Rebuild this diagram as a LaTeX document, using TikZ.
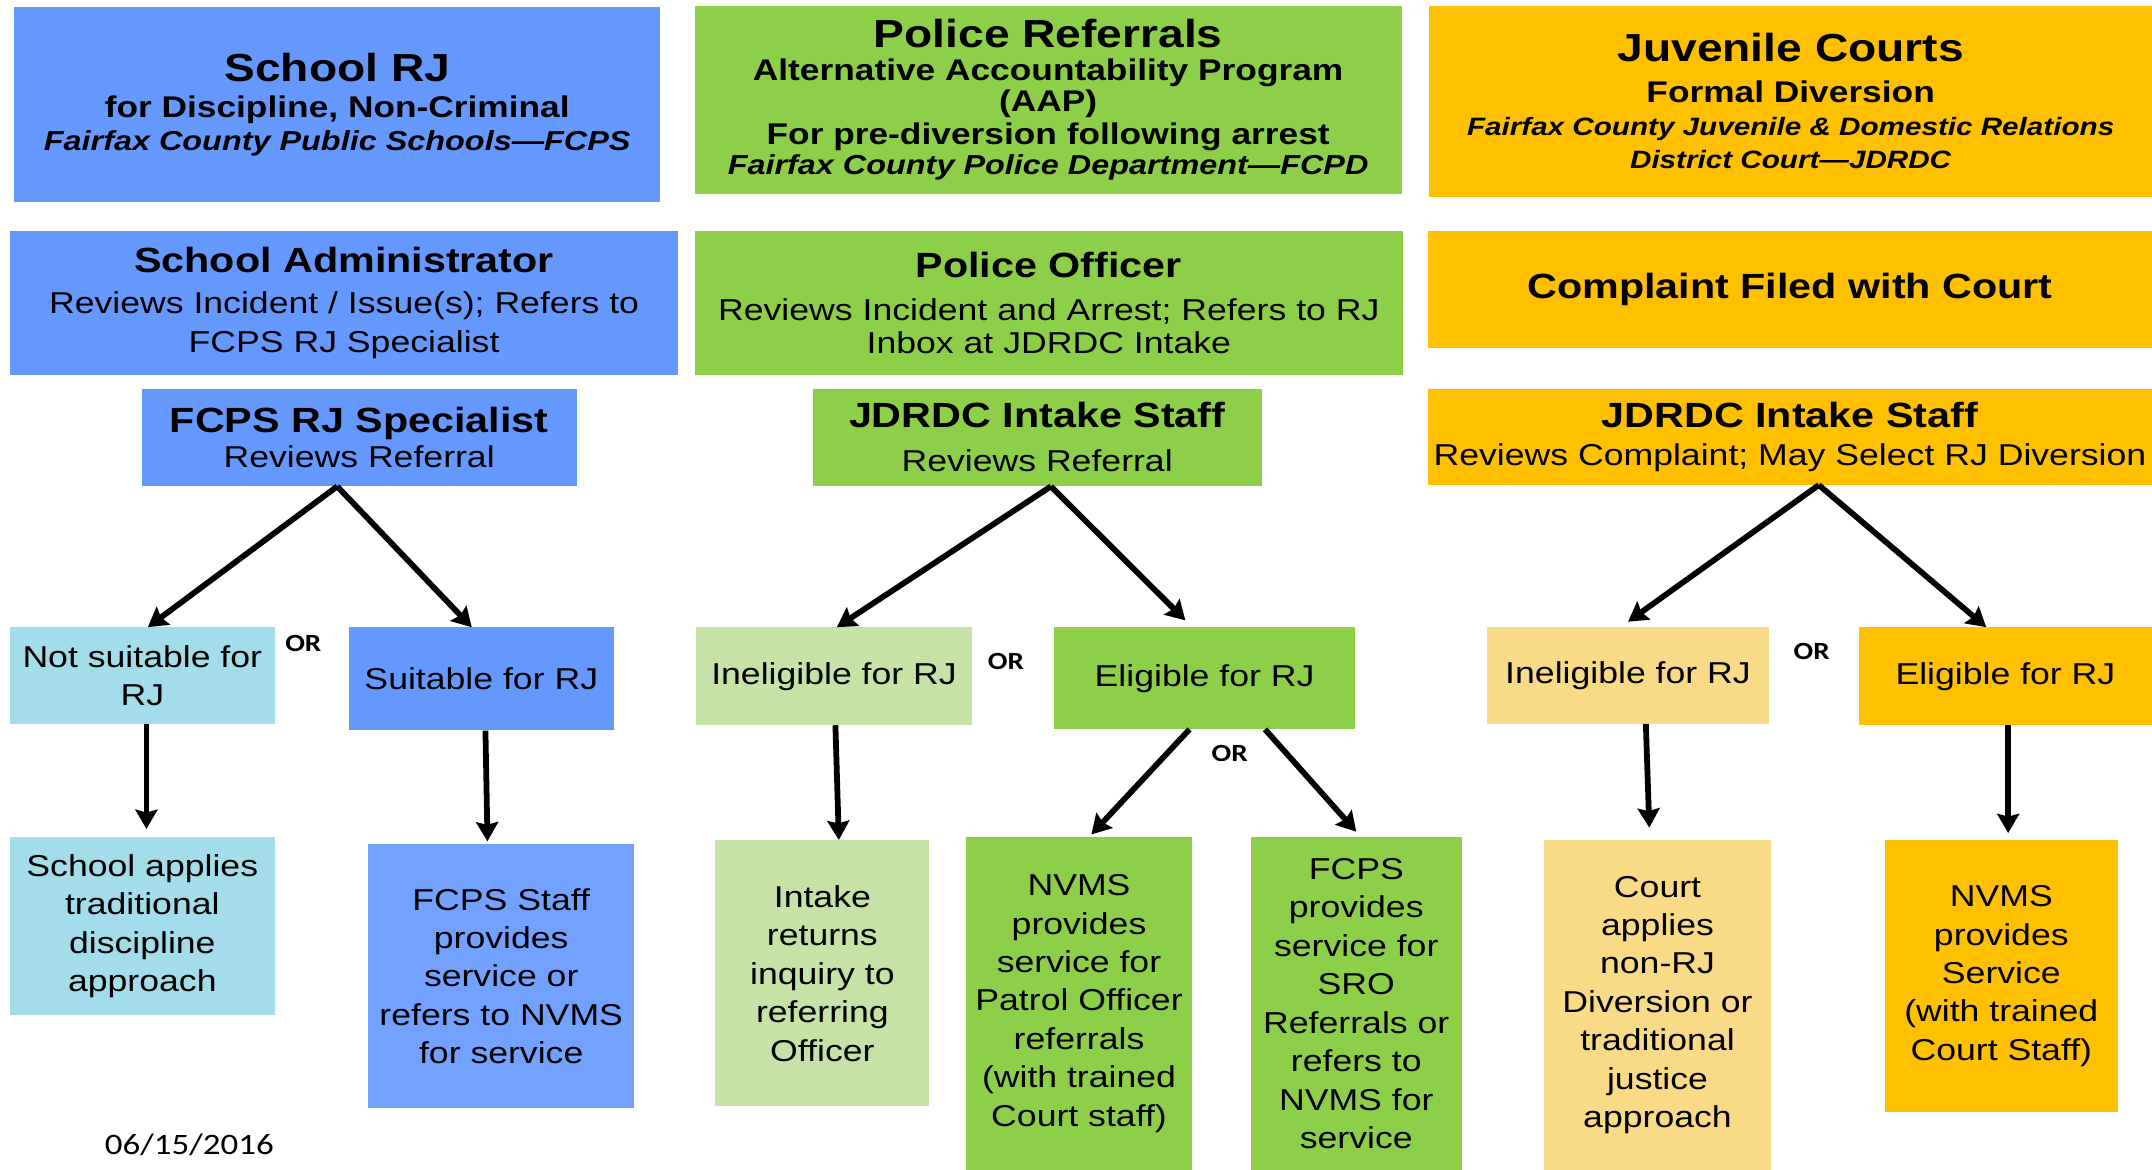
\documentclass[tikz,border=0pt]{standalone}
\usepackage{fontspec}
\setmainfont{Liberation Sans}[FakeStretch=1.18]
\newfontfamily\orfont{Carlito}[FakeStretch=1.18]
\usetikzlibrary{arrows.meta}
\definecolor{rjblue}{RGB}{102,153,255}
\definecolor{rjbluel}{RGB}{114,161,255}
\definecolor{rjcyan}{RGB}{163,221,234}
\definecolor{rjgreen}{RGB}{142,207,74}
\definecolor{rjgreenl}{RGB}{197,227,166}
\definecolor{rjgold}{RGB}{255,192,0}
\definecolor{rjgoldl}{RGB}{249,218,134}
\newcommand{\hdA}{\fontsize{28.5}{32}\selectfont\bfseries}
\newcommand{\hdB}{\fontsize{25.5}{30}\selectfont\bfseries}
\begin{document}
\begin{tikzpicture}[x=1pt,y=-1pt,>={Stealth[length=14pt,width=16pt,inset=2pt]},
    box/.style={anchor=north west,inner sep=0pt,align=center,font=\fontsize{22}{28}\selectfont},
    topbox/.style={box,font=\fontsize{21.8}{24}\selectfont},
    orlbl/.style={font=\orfont\bfseries\fontsize{18}{18}\selectfont},
    arr/.style={->,line width=4.2pt}]
    \useasboundingbox (0,0) rectangle (1568,852);
    % top row
    \node[topbox,fill=rjblue,minimum width=471,minimum height=142] (schoolrj) at (10,5)
        {{\hdA School RJ}\\[2pt]{\bfseries for Discipline, Non-Criminal}\\{\bfseries\itshape\fontsize{20}{24}\selectfont Fairfax County Public Schools—FCPS}};
    \node[topbox,fill=rjgreen,minimum width=515,minimum height=137] (policeref) at (506,4)
        {{\hdA Police Referrals}\\{\bfseries Alternative Accountability Program}\\[-2pt]{\bfseries (AAP)}\\{\bfseries For pre-diversion following arrest}\\[-2pt]{\bfseries\itshape\fontsize{20}{24}\selectfont Fairfax County Police Department—FCPD}};
    \node[topbox,fill=rjgold,minimum width=527,minimum height=139] (juvcourts) at (1041,4)
        {{\hdA Juvenile Courts}\\[6pt]{\bfseries Formal Diversion}\\{\bfseries\itshape\fontsize{18.3}{24}\selectfont Fairfax County Juvenile \& Domestic Relations}\\{\bfseries\itshape\fontsize{18.3}{24}\selectfont District Court—JDRDC}};
    % second row
    \node[box,fill=rjblue,minimum width=487,minimum height=105] (schooladmin) at (7,168)
        {{\hdB School Administrator}\\[2pt]Reviews Incident / Issue(s); Refers to\\FCPS RJ Specialist};
    \node[box,fill=rjgreen,minimum width=516,minimum height=105] (policeoff) at (506,168)
        {{\hdB Police Officer}\\[3pt]Reviews Incident and Arrest; Refers to RJ\\[-4pt]Inbox at JDRDC Intake};
    \node[box,fill=rjgold,minimum width=528,minimum height=85] (complaint) at (1040,168)
        {{\hdB Complaint Filed with Court}};
    % third row
    \node[box,fill=rjblue,minimum width=317,minimum height=71] (fcpsspec) at (103,283)
        {{\hdB FCPS RJ Specialist}\\[-3pt]Reviews Referral};
    \node[box,fill=rjgreen,minimum width=327,minimum height=71] (intakeg) at (592,283)
        {{\hdB JDRDC Intake Staff}\\[4pt]Reviews Referral};
    \node[box,fill=rjgold,minimum width=528,minimum height=70] (intakey) at (1040,283)
        {{\hdB JDRDC Intake Staff}\\Reviews Complaint; May Select RJ Diversion};
    % decisions
    \node[box,fill=rjcyan,minimum width=193,minimum height=70] (notsuit) at (7,457) {Not suitable for\\RJ};
    \node[box,fill=rjblue,minimum width=193,minimum height=75] (suit) at (254,457) {Suitable for RJ};
    \node[box,fill=rjgreenl,minimum width=201,minimum height=71] (inelg) at (507,457) {Ineligible for RJ};
    \node[box,fill=rjgreen,minimum width=219,minimum height=74] (elig) at (768,457) {Eligible for RJ};
    \node[box,fill=rjgoldl,minimum width=206,minimum height=70] (inely) at (1083,457) {Ineligible for RJ};
    \node[box,fill=rjgold,minimum width=214,minimum height=71] (eligy) at (1354,457) {Eligible for RJ};
    \node[orlbl] (or1) at (221,469) {OR};
    \node[orlbl] (or2) at (733,482) {OR};
    \node[orlbl] (or3) at (896,549) {OR};
    \node[orlbl] (or4) at (1320,475) {OR};
    % outcomes
    \node[box,fill=rjcyan,minimum width=193,minimum height=129] (schoolapp) at (7,610)
        {School applies\\traditional\\discipline\\approach};
    \node[box,fill=rjbluel,minimum width=194,minimum height=192] (fcpsstaff) at (268,615)
        {FCPS Staff\\provides\\service or\\refers to NVMS\\for service};
    \node[box,fill=rjgreenl,minimum width=156,minimum height=194] (intakeret) at (521,612)
        {Intake\\returns\\inquiry to\\referring\\Officer};
    \node[box,fill=rjgreen,minimum width=164,minimum height=242] (nvmsg) at (704,610)
        {NVMS\\provides\\service for\\Patrol Officer\\referrals\\(with trained\\Court staff)};
    \node[box,fill=rjgreen,minimum width=154,minimum height=242] (fcpsprov) at (911,610)
        {FCPS\\provides\\service for\\SRO\\Referrals or\\refers to\\NVMS for\\service};
    \node[box,fill=rjgoldl,minimum width=165,minimum height=240] (courtapp) at (1125,612)
        {Court\\applies\\non-RJ\\Diversion or\\traditional\\justice\\approach};
    \node[box,fill=rjgold,minimum width=170,minimum height=198] (nvmsy) at (1373,612)
        {NVMS\\provides\\Service\\(with trained\\Court Staff)};
    \node[font=\orfont\fontsize{21.6}{24}\selectfont] (date) at (138,834) {06/15/2016};
    % arrows
    \draw[arr] ([xshift=-16pt]fcpsspec.south) -- ([xshift=4pt]notsuit.north);
    \draw[arr] ([xshift=-16pt]fcpsspec.south) -- ([xshift=-7pt]suit.north);
    \draw[arr] ([xshift=10pt]intakeg.south) -- ([xshift=2pt]inelg.north);
    \draw[arr] ([xshift=10pt]intakeg.south) -- ([xshift=-14pt,yshift=5pt]elig.north);
    \draw[arr] ([xshift=21pt]intakey.south) -- ([yshift=4pt]inely.north);
    \draw[arr] ([xshift=21pt]intakey.south) -- ([xshift=-14pt]eligy.north);
    \draw[arr] ([xshift=3pt]notsuit.south) -- ([xshift=3pt,yshift=6pt]schoolapp.north);
    \draw[arr] ([xshift=3pt]suit.south) -- ([xshift=-10pt,yshift=2pt]fcpsstaff.north);
    \draw[arr] ([xshift=1pt]inelg.south) -- ([xshift=12pt]intakeret.north);
    \draw[arr] ([xshift=-11pt]elig.south) -- ([xshift=9pt,yshift=2pt]nvmsg.north);
    \draw[arr] ([xshift=44pt]elig.south) -- ([yshift=4pt]fcpsprov.north);
    \draw[arr] ([xshift=13pt]inely.south) -- ([xshift=-6pt,yshift=9pt]courtapp.north);
    \draw[arr] ([xshift=2pt]eligy.south) -- ([xshift=5pt,yshift=5pt]nvmsy.north);
\end{tikzpicture}
\end{document}
